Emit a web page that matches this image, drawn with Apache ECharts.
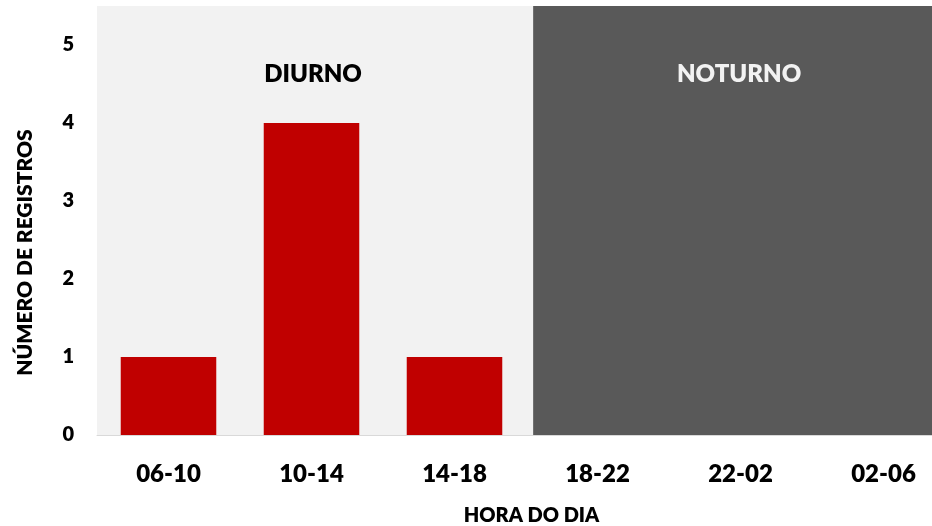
<!DOCTYPE html>
<html>
<head>
<meta charset="utf-8">
<script src="https://cdn.jsdelivr.net/npm/echarts@6/dist/echarts.min.js"></script>
<style>
  html, body { margin: 0; padding: 0; background: #ffffff; overflow: hidden; width: 932px; height: 526px; }
  #chart { width: 955px; height: 526px; }
</style>
</head>
<body>
<div id="chart"></div>
<script>
// ---- data ----
const categories = ['06-10', '10-14', '14-18', '18-22', '22-02', '02-06'];
const registros = [1, 4, 1, 0, 0, 0];
const periodNames = ['DIURNO', 'NOTURNO'];
const periodStart = [0, 3.05];   // in category-width units along the axis
const periodEnd = [3.05, 6];
const yTicks = [0, 1, 2, 3, 4, 5];
const yMax = 5.5;

// ---- chart ----
const chart = echarts.init(document.getElementById('chart'), null, { renderer: 'canvas' });
const FONT = 'Lato';
const W = 800;
const periodColors = ['#f2f2f2', '#595959'];
const periodTextColors = ['#000000', '#f2f2f2'];
const periodLabelShift = [[-2, 0], [-5, 0]];

const bandAreas = periodNames.map((name, i) => [
  {
    name: name,
    xAxis: periodStart[i],
    yAxis: 0,
    itemStyle: { color: periodColors[i] },
    label: { color: periodTextColors[i], offset: periodLabelShift[i] }
  },
  { xAxis: periodEnd[i], yAxis: yMax }
]);

chart.setOption({
  animation: false,
  grid: { left: 97, right: 0, top: 6, bottom: 91, containLabel: false, outerBoundsMode: 'none' },
  xAxis: [
    {
      type: 'category',
      data: categories,
      axisLine: { show: true, lineStyle: { color: '#d9d9d9', width: 1 } },
      axisTick: { show: false },
      axisLabel: {
        margin: 27,
        fontFamily: FONT, fontWeight: W, fontSize: 24, color: '#000000'
      },
      name: 'HORA DO DIA',
      nameLocation: 'middle',
      nameGap: 71,
      nameTextStyle: {
        fontFamily: FONT, fontWeight: W, fontSize: 20, color: '#000000',
        padding: [0, 0, 0, 11]
      }
    },
    {
      type: 'value',
      min: 0,
      max: categories.length,
      show: false
    }
  ],
  yAxis: {
    type: 'value',
    min: 0,
    max: yMax,
    interval: 1,
    splitLine: { show: false },
    axisLine: { show: false },
    axisTick: { show: false },
    axisLabel: {
      margin: 23,
      showMaxLabel: false,
      fontFamily: FONT, fontWeight: W, fontSize: 20, color: '#000000',
      formatter: v => (yTicks.indexOf(v) >= 0 ? String(v) : '')
    },
    name: 'NÚMERO DE REGISTROS',
    nameLocation: 'middle',
    nameGap: 61,
    nameTextStyle: {
      fontFamily: FONT, fontWeight: W, fontSize: 21, color: '#000000',
      padding: [0, 64, 0, 0]
    }
  },
  series: [
    {
      name: 'periodos',
      type: 'line',
      xAxisIndex: 1,
      yAxisIndex: 0,
      data: [],
      z: 1,
      silent: true,
      markArea: {
        silent: true,
        label: {
          show: true,
          position: 'insideTop',
          distance: 56,
          fontFamily: FONT, fontWeight: W, fontSize: 24
        },
        data: bandAreas
      }
    },
    {
      name: 'Registros',
      type: 'bar',
      xAxisIndex: 0,
      yAxisIndex: 0,
      data: registros,
      barWidth: '66.8%',
      z: 3,
      itemStyle: { color: '#c00000' }
    }
  ]
});
</script>
</body>
</html>
